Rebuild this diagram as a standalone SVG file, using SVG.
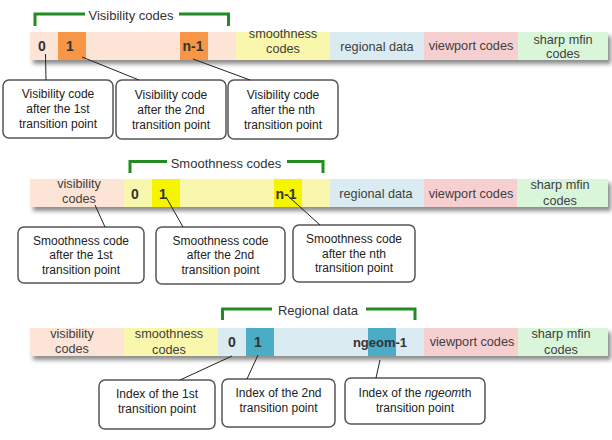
<svg xmlns="http://www.w3.org/2000/svg" width="612" height="440" viewBox="0 0 612 440">
<defs>
<filter id="sh" x="-5%" y="-30%" width="110%" height="180%">
<feDropShadow dx="3" dy="4" stdDeviation="2" flood-color="#000" flood-opacity="0.45"/>
</filter>
<style>
.lbl{font-family:"Liberation Sans",Arial,sans-serif;font-size:12.7px;fill:#404040;text-anchor:middle}
.dig{font-family:"Liberation Sans",Arial,sans-serif;font-size:14px;font-weight:bold;fill:#333;text-anchor:middle}
.brk{fill:none;stroke:#228B22;stroke-width:3}
.btx{font-family:"Liberation Sans",Arial,sans-serif;font-size:13px;fill:#333;text-anchor:middle}
.box{fill:#fff;stroke:#555;stroke-width:1.5}
.ctx{font-family:"Liberation Sans",Arial,sans-serif;font-size:12px;fill:#222;text-anchor:middle}
.con{stroke:#222;stroke-width:1;fill:none}
.vis{fill:#FCE5D7}.smo{fill:#F9F7AB}.reg{fill:#DAEBF2}.vp{fill:#F6CFD0}.shp{fill:#D9F6DA}
.org{fill:#F79646}.yel{fill:#F5F500}.teal{fill:#4BACC6}
</style>
</defs>

<!-- Row 1 -->
<g id="bar1">
<rect x="30" y="32" width="578" height="28" fill="#FCE5D7" filter="url(#sh)"/>
<rect class="vis" x="30" y="32" width="206" height="28"/>
<rect class="org" x="58" y="32" width="28" height="28"/>
<rect class="org" x="180" y="32" width="28" height="28"/>
<rect class="smo" x="236" y="32" width="94" height="28"/>
<rect class="reg" x="330" y="32" width="94" height="28"/>
<rect class="vp" x="424" y="32" width="94" height="28"/>
<rect class="shp" x="518" y="32" width="90" height="28"/>
<text class="dig" x="42" y="51">0</text>
<text class="dig" x="70" y="51">1</text>
<text class="dig" x="193" y="51">n-1</text>
<text class="lbl" x="283" y="38">smoothness</text>
<text class="lbl" x="283" y="53">codes</text>
<text class="lbl" x="377" y="51">regional data</text>
<text class="lbl" x="471" y="50">viewport codes</text>
<text class="lbl" x="563" y="44">sharp mfin</text>
<text class="lbl" x="563" y="58">codes</text>
</g>
<g id="bracket1">
<path class="brk" d="M35,26 V14 H85 M179,14 H228.5 V26"/>
<text class="btx" x="131" y="20">Visibility codes</text>
</g>
<g id="callout1a">
<rect class="box" x="3" y="80" width="110" height="58" rx="6"/>
<text class="ctx" x="58" y="98">Visibility code</text>
<text class="ctx" x="58" y="113">after the 1st</text>
<text class="ctx" x="58" y="128">transition point</text>
</g>
<g id="callout1b">
<rect class="box" x="116" y="80" width="110" height="59" rx="6"/>
<text class="ctx" x="171" y="99">Visibility code</text>
<text class="ctx" x="171" y="114">after the 2nd</text>
<text class="ctx" x="171" y="129">transition point</text>
</g>
<g id="callout1c">
<rect class="box" x="228" y="80" width="110" height="59" rx="6"/>
<text class="ctx" x="283" y="99">Visibility code</text>
<text class="ctx" x="283" y="114">after the nth</text>
<text class="ctx" x="283" y="129">transition point</text>
</g>

<!-- Row 2 -->
<g id="bar2">
<rect x="30" y="179" width="578" height="28" fill="#FCE5D7" filter="url(#sh)"/>
<rect class="vis" x="30" y="179" width="94" height="28"/>
<rect class="smo" x="124" y="179" width="206" height="28"/>
<rect class="yel" x="152" y="179" width="28" height="28"/>
<rect class="yel" x="274" y="179" width="28" height="28"/>
<rect class="reg" x="330" y="179" width="94" height="28"/>
<rect class="vp" x="424" y="179" width="93" height="28"/>
<rect class="shp" x="517" y="179" width="91" height="28"/>
<text class="dig" x="135" y="199">0</text>
<text class="dig" x="163" y="199">1</text>
<text class="dig" x="286" y="199">n-1</text>
<text class="lbl" x="79" y="188">visibility</text>
<text class="lbl" x="79" y="203">codes</text>
<text class="lbl" x="376" y="198">regional data</text>
<text class="lbl" x="471" y="198">viewport codes</text>
<text class="lbl" x="560" y="189">sharp mfin</text>
<text class="lbl" x="560" y="205">codes</text>
</g>
<g id="bracket2">
<path class="brk" d="M130,173 V161.5 H167 M287,161.5 H323 V173"/>
<text class="btx" x="226" y="168">Smoothness codes</text>
</g>
<g id="callout2a">
<rect class="box" x="18" y="227" width="126" height="56" rx="6"/>
<text class="ctx" x="81" y="245">Smoothness code</text>
<text class="ctx" x="81" y="259">after the 1st</text>
<text class="ctx" x="81" y="274">transition point</text>
</g>
<g id="callout2b">
<rect class="box" x="156" y="227" width="129" height="57" rx="6"/>
<text class="ctx" x="220.5" y="245">Smoothness code</text>
<text class="ctx" x="220.5" y="259">after the 2nd</text>
<text class="ctx" x="220.5" y="274">transition point</text>
</g>
<g id="callout2c">
<rect class="box" x="293" y="225" width="122" height="57" rx="6"/>
<text class="ctx" x="354" y="243">Smoothness code</text>
<text class="ctx" x="354" y="258">after the nth</text>
<text class="ctx" x="354" y="272">transition point</text>
</g>

<!-- Row 3 -->
<g id="bar3">
<rect x="30" y="328" width="578" height="28" fill="#FCE5D7" filter="url(#sh)"/>
<rect class="vis" x="30" y="328" width="94" height="28"/>
<rect class="smo" x="124" y="328" width="94" height="28"/>
<rect class="reg" x="218" y="328" width="206" height="28"/>
<rect class="teal" x="246" y="328" width="28" height="28"/>
<rect class="teal" x="368" y="328" width="28" height="28"/>
<rect class="vp" x="424" y="328" width="94" height="28"/>
<rect class="shp" x="518" y="328" width="90" height="28"/>
<text class="dig" x="232" y="347">0</text>
<text class="dig" x="258" y="347">1</text>
<text class="dig" x="380" y="347" style="font-size:13px">ngeom-1</text>
<text class="lbl" x="72" y="338">visibility</text>
<text class="lbl" x="72" y="353">codes</text>
<text class="lbl" x="169" y="338">smoothness</text>
<text class="lbl" x="169" y="354">codes</text>
<text class="lbl" x="472" y="346">viewport codes</text>
<text class="lbl" x="561" y="338">sharp mfin</text>
<text class="lbl" x="561" y="354">codes</text>
</g>
<g id="bracket3">
<path class="brk" d="M222.5,320 V309 H272 M366,309 H415 V320"/>
<text class="btx" x="318" y="315">Regional data</text>
</g>
<g id="callout3a">
<rect class="box" x="99" y="380" width="116" height="49" rx="6"/>
<text class="ctx" x="157" y="398">Index of the 1st</text>
<text class="ctx" x="157" y="413">transition point</text>
</g>
<g id="callout3b">
<rect class="box" x="222" y="379" width="113" height="48" rx="6"/>
<text class="ctx" x="278.5" y="397">Index of the 2nd</text>
<text class="ctx" x="278.5" y="412">transition point</text>
</g>
<g id="callout3c">
<rect class="box" x="345" y="378" width="140" height="46" rx="6"/>
<text class="ctx" x="415" y="397">Index of the <tspan font-style="italic">ngeom</tspan>th</text>
<text class="ctx" x="415" y="412">transition point</text>
</g>

<g id="connectors">
<line class="con" x1="45.5" y1="54" x2="46" y2="80"/>
<line class="con" x1="82" y1="57" x2="139" y2="80"/>
<line class="con" x1="193" y1="59" x2="250" y2="80"/>
<line class="con" x1="95" y1="205" x2="105" y2="227"/>
<line class="con" x1="166" y1="197" x2="183" y2="227"/>
<line class="con" x1="288" y1="196" x2="320" y2="225"/>
<line class="con" x1="232" y1="356" x2="180" y2="380"/>
<line class="con" x1="258" y1="355" x2="247" y2="379"/>
<line class="con" x1="380" y1="360" x2="376" y2="378"/>
</g>
</svg>
